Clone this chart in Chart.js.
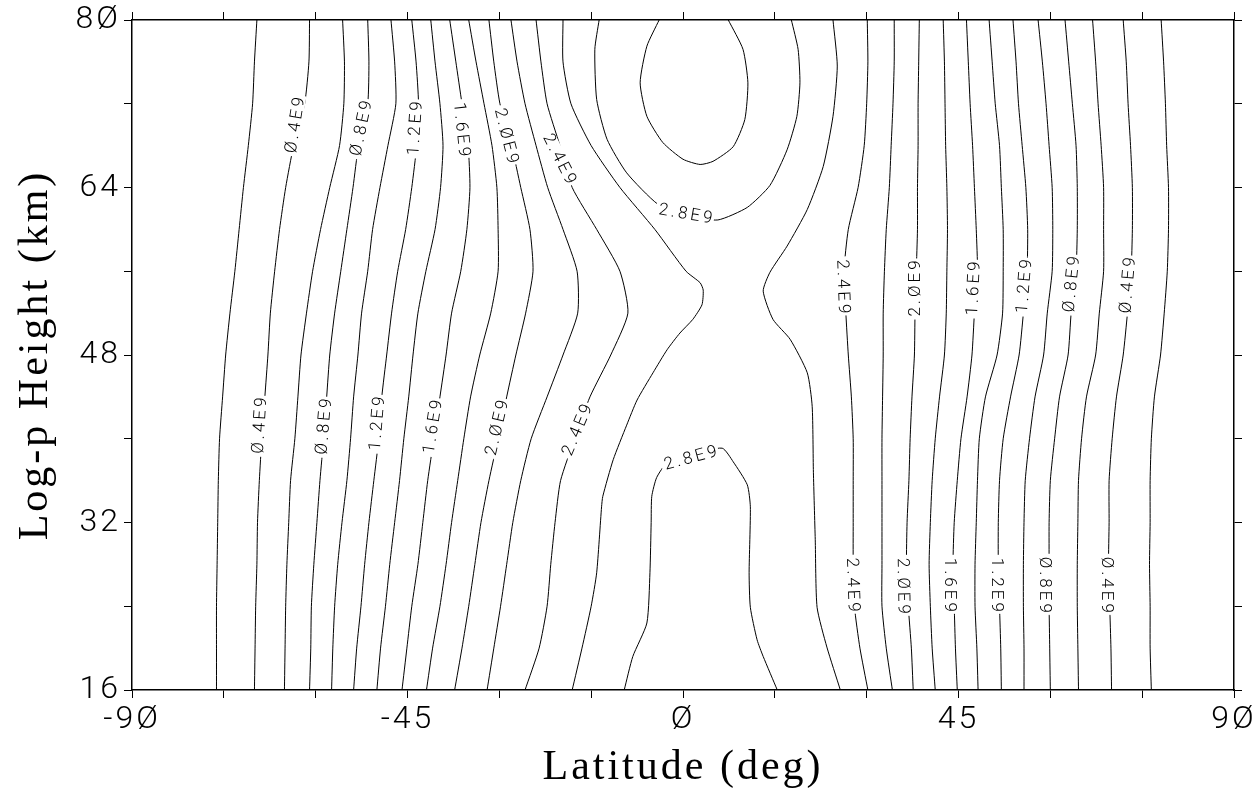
<!DOCTYPE html>
<html>
<head>
    <title>Log-p Height vs Latitude</title>
    <style>
        body {
            margin: 0;
            background: #fff;
        }
        #wrap {
            width: 1254px;
            height: 796px;
        }
    </style>
</head>
<body>
    <div id="wrap"><canvas id="contourChart" width="1254" height="796"></canvas></div>

    <script src="https://cdn.jsdelivr.net/npm/chart.js"></script>
    <script>
        const heights = [80, 76, 72, 68, 64, 60, 56, 52, 48, 44, 40, 36, 32, 28, 24, 20, 16];

        // southern hemisphere contours, latitude at each height row (0.2E9 step)
        const west02 = [-69.6, -70.0, -70.3, -71.0, -71.8, -72.5, -73.2, -74.0, -74.7, -75.2, -75.7, -75.9, -76.0, -76.1, -76.2, -76.2, -76.2];
        const west04 = [-61.0, -61.1, -61.8, -63.6, -64.9, -65.9, -66.7, -67.4, -67.8, -68.3, -68.8, -69.2, -69.5, -69.6, -69.8, -69.9, -70.0];
        const west06 = [-55.6, -55.3, -55.4, -56.1, -57.7, -59.2, -60.5, -61.5, -62.4, -62.9, -63.4, -64.1, -64.4, -64.7, -64.9, -65.0, -65.1];
        const west08 = [-51.5, -51.3, -51.5, -53.0, -53.9, -54.9, -55.9, -56.9, -57.7, -58.2, -58.7, -59.3, -59.8, -60.3, -60.7, -60.8, -61.0];
        const west10 = [-47.7, -47.1, -46.9, -48.2, -49.5, -50.7, -51.5, -52.5, -53.1, -53.8, -54.3, -54.9, -55.7, -56.4, -56.9, -57.2, -57.4];
        const west12 = [-44.3, -43.6, -43.2, -43.5, -44.3, -45.3, -46.6, -47.6, -48.4, -49.2, -49.7, -50.5, -51.3, -52.0, -52.6, -53.3, -53.8];
        const west14 = [-41.2, -40.5, -39.7, -39.2, -39.6, -40.5, -42.0, -43.3, -44.1, -44.8, -45.6, -46.3, -47.1, -47.9, -48.6, -49.4, -50.0];
        const west16 = [-38.1, -37.1, -36.1, -35.1, -34.8, -35.3, -36.3, -37.8, -38.7, -39.7, -40.7, -41.7, -42.5, -43.3, -44.3, -45.1, -45.9];
        const west18 = [-35.0, -33.8, -32.5, -31.2, -30.4, -30.2, -30.2, -31.4, -33.2, -34.7, -35.8, -36.8, -37.8, -38.7, -39.7, -40.9, -41.9];
        const west20 = [-31.7, -30.9, -29.9, -28.0, -26.5, -25.0, -24.5, -25.7, -27.3, -28.8, -30.2, -31.7, -33.0, -34.0, -35.0, -36.1, -37.3];
        const west22 = [-28.1, -27.1, -25.8, -24.0, -22.1, -19.6, -17.3, -17.2, -19.6, -22.2, -24.8, -26.5, -27.8, -28.8, -29.8, -30.9, -32.0];
        const west24 = [-24.0, -23.2, -22.2, -20.1, -18.1, -14.1, -10.3, -9.0, -11.8, -15.2, -17.7, -20.0, -20.9, -21.6, -22.2, -23.5, -25.8];

        // northern hemisphere contours
        const east24 = [30.1, 30.2, 30.0, 29.6, 28.6, 27.0, 26.3, 26.6, 27.0, 27.5, 27.8, 27.8, 27.8, 27.8, 28.0, 28.9, 30.2];
        const east22 = [34.5, 34.5, 34.3, 34.0, 33.7, 33.2, 32.9, 32.7, 32.7, 32.6, 32.5, 32.5, 32.5, 32.5, 32.5, 33.2, 34.2];
        const east20 = [38.6, 38.5, 38.4, 38.4, 38.3, 38.3, 38.1, 37.9, 37.8, 37.4, 37.1, 36.9, 36.6, 36.5, 36.8, 37.3, 37.6];
        const east18 = [42.5, 42.7, 42.8, 42.9, 43.1, 43.2, 43.1, 43.0, 42.7, 41.9, 41.2, 40.7, 40.4, 40.2, 40.4, 40.7, 41.2];
        const east16 = [46.3, 46.6, 46.9, 47.3, 47.6, 47.9, 48.1, 47.6, 47.2, 46.4, 45.4, 44.8, 44.3, 44.1, 44.3, 44.5, 44.8];
        const east14 = [50.0, 50.5, 51.0, 51.7, 52.0, 52.3, 52.3, 52.2, 51.3, 49.4, 48.4, 48.1, 47.9, 47.7, 47.7, 48.0, 48.2];
        const east12 = [53.9, 54.4, 54.8, 55.4, 56.0, 56.3, 56.2, 55.6, 54.9, 53.5, 52.3, 51.7, 51.5, 51.5, 51.7, 51.9, 52.0];
        const east10 = [58.0, 58.7, 59.3, 59.8, 60.3, 60.4, 60.3, 59.5, 58.9, 57.5, 56.6, 55.9, 55.7, 55.6, 55.6, 55.7, 55.7];
        const east08 = [62.4, 63.0, 63.6, 64.2, 64.4, 64.4, 64.2, 63.4, 62.9, 61.5, 60.7, 60.0, 59.8, 59.8, 59.8, 59.9, 60.0];
        const east06 = [66.9, 67.4, 67.8, 68.3, 68.7, 68.7, 68.7, 68.0, 67.4, 65.9, 65.1, 64.6, 64.5, 64.4, 64.4, 64.5, 64.6];
        const east04 = [71.9, 72.4, 72.7, 73.1, 73.4, 73.4, 73.2, 72.6, 71.9, 70.8, 70.1, 69.6, 69.6, 69.5, 69.7, 69.9, 70.0];
        const east02 = [78.1, 78.5, 78.8, 79.0, 79.3, 79.3, 79.1, 78.6, 78.0, 77.0, 76.5, 76.3, 76.3, 76.2, 76.3, 76.3, 76.5];

        // central contours that fold back, as [latitude, height] pairs
        const west26 = [[-19.6, 80], [-19.6, 76], [-18.3, 72], [-15.0, 68], [-10.3, 64], [-4.6, 60], [0.5, 56], [2.8, 54.9],
            [3.3, 54.2], [3.1, 52.8], [1.6, 51.4], [-0.5, 50.1], [-2.6, 48.5], [-4.9, 46.3], [-7.5, 43.7], [-9.2, 41.3],
            [-11.4, 38.0], [-13.1, 34.5], [-13.3, 33.5], [-14.1, 27.2], [-15.0, 24], [-16.5, 20], [-18.1, 16]];
        const east26 = [[24.5, 80], [25.2, 75.6], [24.5, 70.8], [22.9, 66.0], [20.3, 61.9], [17.0, 58.4], [14.2, 55.9], [13.1, 54.1],
            [14.7, 51.4], [17.5, 49.5], [20.3, 46.3], [21.1, 43.1], [21.3, 36.8], [21.6, 30.4], [21.9, 23.9], [23.5, 20.1], [25.7, 16]];
        const upper28 = [[-13.7, 80], [-14.4, 77.2], [-14.1, 72.4], [-12.4, 68.6], [-9.2, 65.4], [-4.1, 62.4], [0.8, 61.3], [5.7, 60.9],
            [10.5, 62.1], [14.2, 64.2], [17.0, 67.6], [18.6, 70.8], [19.1, 74.0], [18.8, 77.2], [17.7, 80]];
        const upper30 = [[-3.9, 80], [-5.9, 77.5], [-7.0, 74.0], [-5.9, 70.8], [-3.3, 68.3], [0, 66.7], [2.8, 66.2], [4.9, 66.5],
            [8.2, 67.9], [10.1, 70.5], [10.6, 74.0], [9.8, 77.2], [7.4, 80]];
        const lower28 = [[-9.6, 16], [-8.2, 19.2], [-5.9, 22.4], [-5.4, 27.2], [-5.2, 32.0], [-5.1, 34.5], [-4.3, 36.3], [-2.6, 37.7],
            [1.5, 38.5], [6.4, 39.1], [8.2, 37.8], [10.5, 35.6], [11.0, 33.5], [10.8, 27.2], [11.0, 23.9], [12.1, 20.8], [13.1, 19.2], [15.4, 16]];

        // contour labels: text, position (lat, km) and text angle in degrees
        const labelText = ['Ø.4E9', 'Ø.8E9', '1.2E9', '1.6E9', '2.ØE9', '2.4E9', '2.8E9',
            'Ø.4E9', 'Ø.8E9', '1.2E9', '1.6E9', '2.ØE9', '2.4E9', '2.8E9',
            '2.4E9', '2.ØE9', '1.6E9', '1.2E9', 'Ø.8E9', 'Ø.4E9',
            '2.4E9', '2.ØE9', '1.6E9', '1.2E9', 'Ø.8E9', 'Ø.4E9'];
        const labelLat = [-63.4, -52.6, -43.8, -36.1, -28.8, -20.1, 0.5,
            -69.2, -58.7, -50.0, -40.9, -30.4, -17.3, 1.3,
            26.2, 37.8, 47.4, 55.7, 63.4, 72.6,
            27.8, 36.0, 43.6, 51.3, 59.2, 69.3];
        const labelHeight = [70.0, 69.7, 69.7, 69.5, 68.9, 66.7, 61.5,
            41.3, 41.2, 41.5, 41.2, 41.1, 40.9, 38.2,
            54.5, 54.4, 54.4, 54.6, 54.8, 54.7,
            26.0, 25.9, 26.0, 26.0, 26.0, 26.0];
        const labelAngle = [-81, -78, -86, 84, 76, 63, 10,
            -86.5, -85, -85, -81, -77, -67, -15,
            88, -90, -87, -85, -84, -85,
            88, 89, 90, 90, 90, 90];

        const xTickValues = [-90, -45, 0, 45, 90];
        const xTickText = ['-9Ø', '-45', 'Ø', '45', '9Ø'];
        const yTickValues = [16, 32, 48, 64, 80];
        const yTickText = ['16', '32', '48', '64', '8Ø'];

        const rowLines = [west02, west04, west06, west08, west10, west12, west14, west16, west18, west20, west22, west24,
            east24, east22, east20, east18, east16, east14, east12, east10, east08, east06, east04, east02];
        const pairLines = [west26, east26, upper28, upper30, lower28];

        function lineSet(points) {
            return {
                data: points,
                showLine: true,
                borderColor: '#000',
                borderWidth: 1,
                pointRadius: 0,
                tension: 0.2,
                fill: false
            };
        }

        const datasets = [];
        rowLines.forEach(lats => {
            datasets.push(lineSet(lats.map((lat, i) => ({ x: lat, y: heights[i] }))));
        });
        pairLines.forEach(pairs => {
            datasets.push(lineSet(pairs.map(p => ({ x: p[0], y: p[1] }))));
        });

        // wider letter spacing for the axis text, like the plotter font
        const spacedText = {
            id: 'spacedText',
            beforeDraw(chart) {
                chart.ctx.letterSpacing = '3px';
            }
        };

        // writes the contour values along the lines, blanking the line under the text
        const contourLabels = {
            id: 'contourLabels',
            afterDatasetsDraw(chart) {
                const ctx = chart.ctx;
                const xs = chart.scales.x;
                const ys = chart.scales.y;
                ctx.save();
                ctx.font = '300 17px Roboto, "DejaVu Sans", sans-serif';
                ctx.letterSpacing = '3px';
                ctx.textAlign = 'center';
                ctx.textBaseline = 'middle';
                labelText.forEach((txt, i) => {
                    const px = xs.getPixelForValue(labelLat[i]);
                    const py = ys.getPixelForValue(labelHeight[i]);
                    const w = ctx.measureText(txt).width;
                    ctx.save();
                    ctx.translate(px, py);
                    ctx.rotate(labelAngle[i] * Math.PI / 180);
                    ctx.fillStyle = '#fff';
                    ctx.fillRect(-w / 2 - 2, -7, w + 2, 14);
                    ctx.fillStyle = '#000';
                    ctx.fillText(txt, 1, 1);
                    ctx.restore();
                });
                ctx.restore();
            }
        };

        const tickFont = { family: 'Roboto, "DejaVu Sans", sans-serif', size: 32, weight: '300' };
        const titleFont = { family: '"Liberation Serif", "DejaVu Serif", serif', size: 42 };
        const edgeGrid = { drawOnChartArea: false, drawTicks: true, tickLength: 8, color: '#000', lineWidth: 1 };
        const edgeBorder = { display: true, color: '#000', width: 1.5 };

        const ctx = document.getElementById('contourChart').getContext('2d');
        const chart = new Chart(ctx, {
            type: 'scatter',
            data: { datasets: datasets },
            options: {
                responsive: false,
                animation: false,
                devicePixelRatio: 1,
                layout: { padding: 0 },
                plugins: {
                    legend: { display: false },
                    tooltip: { enabled: false }
                },
                scales: {
                    x: {
                        type: 'linear',
                        position: 'bottom',
                        min: -90,
                        max: 90,
                        grid: edgeGrid,
                        border: edgeBorder,
                        ticks: {
                            stepSize: 15,
                            autoSkip: false,
                            maxRotation: 0,
                            padding: 3,
                            color: '#000',
                            font: tickFont,
                            callback: v => {
                                const i = xTickValues.indexOf(v);
                                return i < 0 ? '' : xTickText[i];
                            }
                        },
                        title: {
                            display: true,
                            text: 'Latitude (deg)',
                            color: '#000',
                            font: titleFont,
                            padding: { top: 0, bottom: 3 }
                        },
                        afterFit: s => {
                            s.height = 106;
                            s.paddingLeft = 0;
                            s.paddingRight = 0;
                        }
                    },
                    xTop: {
                        type: 'linear',
                        position: 'top',
                        min: -90,
                        max: 90,
                        grid: edgeGrid,
                        border: edgeBorder,
                        ticks: { stepSize: 15, display: false },
                        afterFit: s => {
                            s.height = 20;
                            s.paddingLeft = 0;
                            s.paddingRight = 0;
                        }
                    },
                    y: {
                        type: 'linear',
                        position: 'left',
                        min: 16,
                        max: 80,
                        grid: edgeGrid,
                        border: edgeBorder,
                        ticks: {
                            stepSize: 8,
                            autoSkip: false,
                            padding: 3,
                            color: '#000',
                            font: tickFont,
                            callback: v => {
                                const i = yTickValues.indexOf(v);
                                return i < 0 ? '' : yTickText[i];
                            }
                        },
                        title: {
                            display: true,
                            text: 'Log-p Height (km)',
                            color: '#000',
                            font: titleFont,
                            padding: { top: 11, bottom: 0 }
                        },
                        afterFit: s => {
                            s.width = 132;
                            s.paddingTop = 0;
                            s.paddingBottom = 0;
                        }
                    },
                    yRight: {
                        type: 'linear',
                        position: 'right',
                        min: 16,
                        max: 80,
                        grid: edgeGrid,
                        border: edgeBorder,
                        ticks: { stepSize: 8, display: false },
                        afterFit: s => {
                            s.width = 20;
                            s.paddingTop = 0;
                            s.paddingBottom = 0;
                        }
                    }
                }
            },
            plugins: [spacedText, contourLabels]
        });
    </script>
</body>
</html>
